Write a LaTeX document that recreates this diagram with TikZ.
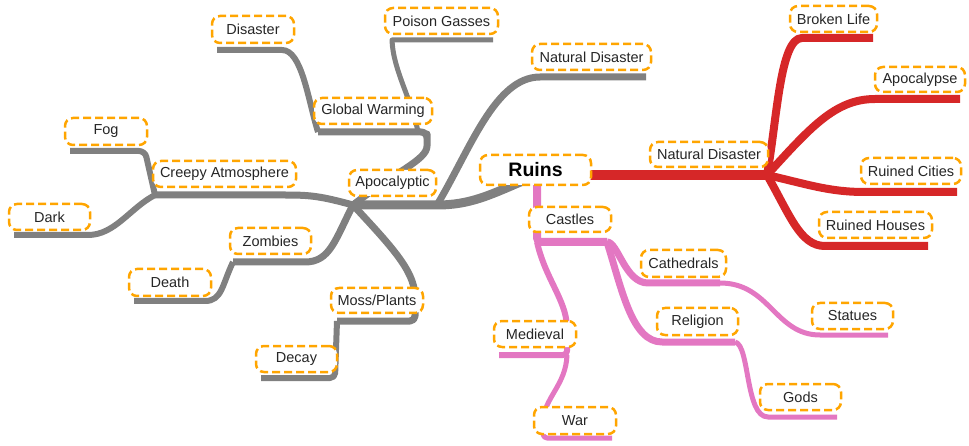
\documentclass[tikz,border=0pt]{standalone}
\usepackage{fontspec}
\setmainfont{Liberation Sans}
\definecolor{cgray}{HTML}{808080}
\definecolor{cred}{HTML}{D62728}
\definecolor{cpink}{HTML}{E377C2}
\definecolor{corange}{HTML}{FFA500}
\begin{document}
\begin{tikzpicture}[x=1pt,y=-1pt,line join=round,
  lbl/.style={draw=corange,line width=2.5pt,dash pattern=on 8pt off 4pt,rounded corners=8pt,
    fill=white,inner sep=0pt,text=black!85,font=\fontsize{14.5}{17}\selectfont},
  sz/.style 2 args={minimum width=#1,minimum height=#2},
  gbr/.style={draw=cgray,line width=#1},
  rbr/.style={draw=cred,line width=#1},
  pbr/.style={draw=cpink,line width=#1}]
\useasboundingbox (0,0) rectangle (969,446);
% junction / end coordinates
\coordinate (ruinsG) at (525,180);
\coordinate (ruinsR) at (585,175);
\coordinate (ruinsB) at (537,180);
\coordinate (apoL) at (353,205);
\coordinate (apoR) at (437,205);
\coordinate (creL) at (155,195);
\coordinate (fogE) at (70,151);
\coordinate (darkE) at (14,235);
\coordinate (gwL) at (318,132);
\coordinate (gwR) at (427,132);
\coordinate (gwP) at (418,132);
\coordinate (disE) at (217,50);
\coordinate (pgE) at (493,40);
\coordinate (ndgE) at (646,77);
\coordinate (zomL) at (233,262);
\coordinate (deaE) at (134,301);
\coordinate (mossR) at (415,321);
\coordinate (mossL) at (337,321);
\coordinate (decE) at (261,378);
\coordinate (ndrJ) at (767,175);
\coordinate (blE) at (873,38);
\coordinate (apE) at (960,99);
\coordinate (rcE) at (957,192);
\coordinate (rhE) at (928,246);
\coordinate (casL) at (537,242);
\coordinate (casR) at (607,242);
\coordinate (catR) at (720,283);
\coordinate (relR) at (735,342);
\coordinate (stE) at (888,335);
\coordinate (goE) at (837,417);
\coordinate (medR) at (567,355);
\coordinate (medE) at (499,355);
\coordinate (warE) at (612,438);
% gray branches
\draw[gbr=9pt] (ruinsG) .. controls (490,195) and (470,205) .. (apoR) -- (apoL);
\draw[gbr=7pt] (apoL) .. controls (320,196) and (310,195) .. (285,195) -- (creL);
\draw[gbr=6pt,rounded corners=6pt] (creL) -- (145,151) -- (fogE);
\draw[gbr=6pt] (creL) .. controls (130,208) and (115,235) .. (88,235) -- (darkE);
\draw[gbr=7pt,rounded corners=6pt] (apoL) .. controls (395,172) and (427,160) .. (427,140) -- (gwR) -- (gwL);
\draw[gbr=6pt] (gwL) .. controls (308,100) and (302,50) .. (282,50) -- (disE);
\draw[gbr=5pt] (gwP) .. controls (412,100) and (393,70) .. (392,40) -- (pgE);
\draw[gbr=7pt] (apoR) .. controls (470,150) and (495,77) .. (540,77) -- (ndgE);
\draw[gbr=7pt] (apoL) .. controls (335,240) and (330,262) .. (305,262) -- (zomL);
\draw[gbr=6pt] (zomL) .. controls (222,285) and (222,301) .. (205,301) -- (deaE);
\draw[gbr=7pt,rounded corners=5pt] (apoL) .. controls (390,245) and (414,270) .. (415,300) -- (mossR) -- (mossL);
\draw[gbr=6pt,rounded corners=5pt] (mossL) -- (335,378) -- (decE);
% red branches
\draw[rbr=10pt] (ruinsR) -- (ndrJ);
\draw[rbr=8pt] (ndrJ) .. controls (777,120) and (780,38) .. (802,38) -- (blE);
\draw[rbr=8pt] (ndrJ) .. controls (810,128) and (835,99) .. (875,99) -- (apE);
\draw[rbr=8pt] (ndrJ) .. controls (810,185) and (830,192) .. (865,192) -- (rcE);
\draw[rbr=8pt] (ndrJ) .. controls (790,215) and (800,246) .. (825,246) -- (rhE);
% pink branches
\draw[pbr=8pt,rounded corners=4pt] (ruinsB) -- (casL) -- (casR);
\draw[pbr=7pt] (casR) .. controls (618,242) and (625,283) .. (648,283) -- (catR);
\draw[pbr=7pt] (casR) .. controls (622,290) and (632,342) .. (662,342) -- (relR);
\draw[pbr=5pt] (catR) .. controls (770,283) and (775,335) .. (820,335) -- (stE);
\draw[pbr=5pt] (relR) .. controls (750,345) and (745,417) .. (768,417) -- (goE);
\draw[pbr=6pt,rounded corners=4pt] (casL) .. controls (545,278) and (566,300) .. (567,330) -- (medR) -- (medE);
\draw[pbr=5pt,rounded corners=4pt] (medR) .. controls (566,385) and (544,398) .. (543,425) -- (543,438) -- (warE);
% nodes
\node[lbl,sz={82pt}{27pt}] (dis) at (253,29.5) {Disaster};
\node[lbl,sz={113pt}{26pt}] (pg) at (441.5,21) {Poison Gasses};
\node[lbl,sz={118pt}{26pt}] (gw) at (373,111) {Global Warming};
\node[lbl,sz={82pt}{27pt}] (fog) at (106,131.5) {Fog};
\node[lbl,sz={143pt}{26pt}] (cre) at (224.5,174) {Creepy Atmosphere};
\node[lbl,sz={87pt}{26pt}] (apo) at (392.5,183) {Apocalyptic};
\node[lbl,sz={119pt}{26pt}] (ndg) at (591.5,57) {Natural Disaster};
\node[lbl,sz={81pt}{26pt}] (dark) at (49.5,217) {Dark};
\node[lbl,sz={81pt}{26pt}] (zom) at (270.5,241) {Zombies};
\node[lbl,sz={82pt}{27pt}] (dea) at (170,282.5) {Death};
\node[lbl,sz={92pt}{25pt}] (moss) at (377,300.5) {Moss/Plants};
\node[lbl,sz={81pt}{26pt}] (dec) at (296.5,359) {Decay};
\node[lbl,sz={111pt}{30pt},text=black,font=\fontsize{19.5}{22}\selectfont\bfseries] (ruins) at (535.5,170) {Ruins};
\node[lbl,sz={118pt}{25pt}] (ndr) at (709,154.5) {Natural Disaster};
\node[lbl,sz={87pt}{26pt}] (bl) at (833.5,19) {Broken Life};
\node[lbl,sz={90pt}{25pt}] (ap) at (920,79.5) {Apocalypse};
\node[lbl,sz={100pt}{26pt}] (rc) at (911,171) {Ruined Cities};
\node[lbl,sz={113pt}{26pt}] (rh) at (875.5,225) {Ruined Houses};
\node[lbl,sz={82pt}{25pt}] (cas) at (570,219.5) {Castles};
\node[lbl,sz={85pt}{27pt}] (cat) at (683.5,263.5) {Cathedrals};
\node[lbl,sz={81pt}{27pt}] (rel) at (697.5,321.5) {Religion};
\node[lbl,sz={81pt}{26pt}] (st) at (852.5,316) {Statues};
\node[lbl,sz={81pt}{26pt}] (go) at (800.5,397) {Gods};
\node[lbl,sz={82pt}{26pt}] (med) at (535,334) {Medieval};
\node[lbl,sz={82pt}{27pt}] (war) at (575,420.5) {War};
\end{tikzpicture}
\end{document}
